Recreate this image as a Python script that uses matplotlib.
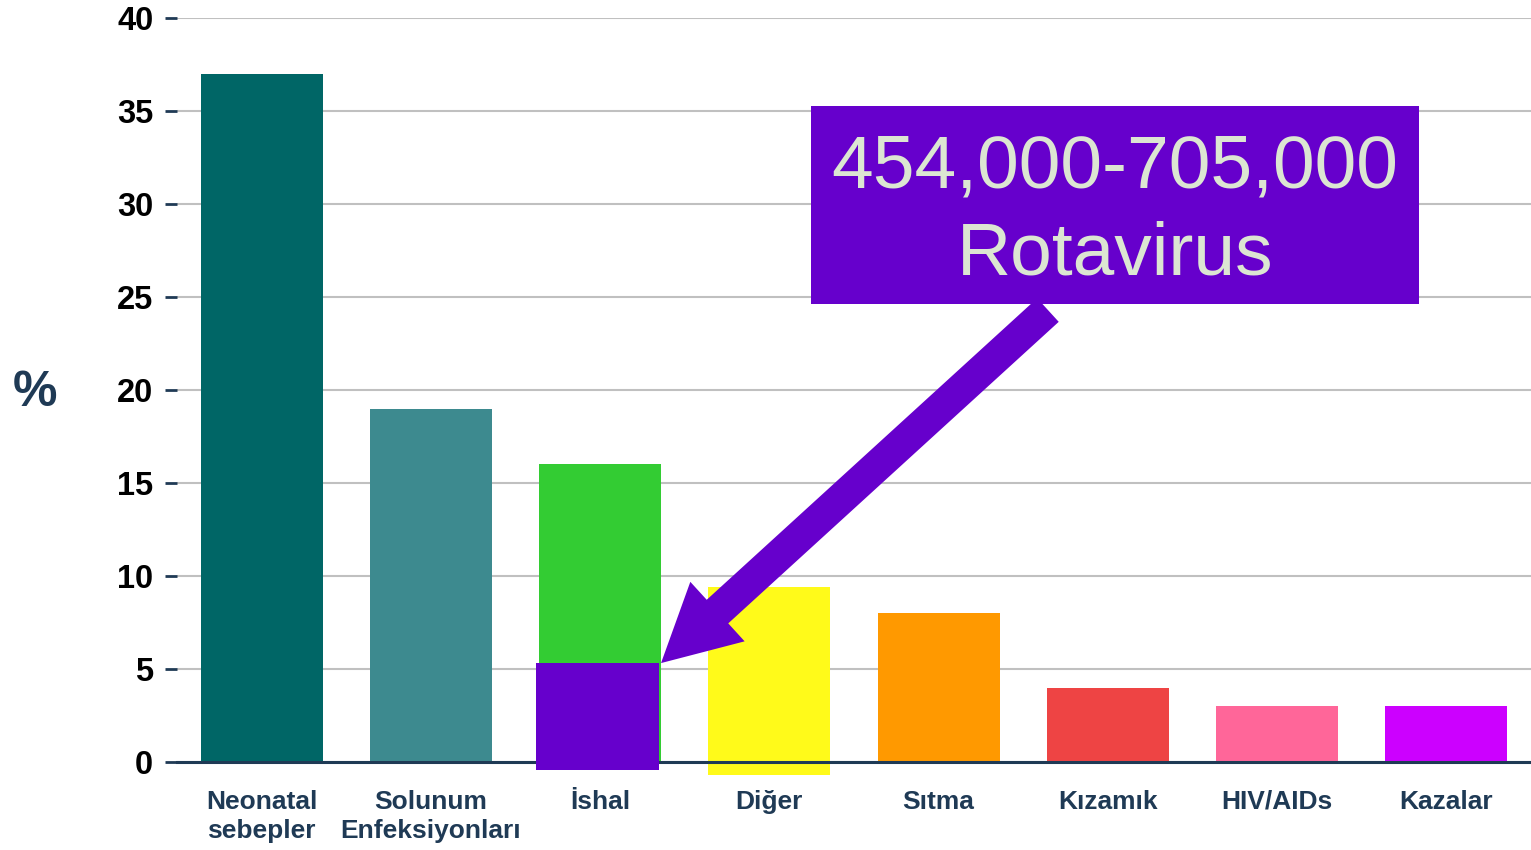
import matplotlib.pyplot as plt
from matplotlib.patches import Rectangle

plt.rcParams['font.family'] = ['Liberation Sans', 'DejaVu Sans']

# Veriler
kategoriler = ["Neonatal\nsebepler", "Solunum\nEnfeksiyonları", "İshal", "Diğer",
               "Sıtma", "Kızamık", "HIV/AIDs", "Kazalar"]
yuzdeler = [37.0, 19.0, 16.0, 9.4, 8.0, 4.0, 3.0, 3.0]
renkler = ["#006666", "#3D8A8F", "#33CC33", "#FFFA1A",
           "#FF9900", "#EE4444", "#FF6699", "#CC00FF"]
rotavirus_payi = 5.3
etiket = "454,000-705,000\nRotavirus"

lacivert = "#1F3A55"
mor = "#6600CC"

fig = plt.figure(figsize=(15.31, 8.5), dpi=100)
ax = fig.add_axes([0.1156, 0.1035, 0.8844, 0.8753])

x = list(range(len(kategoriler)))
alt = [0, 0, 0, -0.7, 0, 0, 0, 0]
yukseklik = [v - a for v, a in zip(yuzdeler, alt)]
ax.bar(x, yukseklik, bottom=alt, width=0.72, color=renkler, zorder=2, clip_on=False)

# Rotavirus kismi (ishal cubugunun alti)
ax.add_patch(Rectangle((2 - 0.38, -0.43), 0.73, rotavirus_payi + 0.43,
                       facecolor=mor, edgecolor="none", zorder=3, clip_on=False))

ax.set_xlim(-0.5, 7.5)
ax.set_ylim(0, 40)
ax.set_yticks(range(0, 41, 5))
ax.grid(axis='y', color="#C0C0C0", linewidth=1.5, zorder=0)

for s in ["top", "right", "left"]:
    ax.spines[s].set_visible(False)
ax.spines["bottom"].set_color(lacivert)
ax.spines["bottom"].set_linewidth(2.2)

ax.tick_params(axis='y', length=9, width=2, color=lacivert, pad=8,
               labelsize=23.5, labelcolor="black")
ax.tick_params(axis='x', length=0, pad=20)
for lbl in ax.get_yticklabels():
    lbl.set_fontweight('bold')

ax.set_xticks(x)
ax.set_xticklabels(kategoriler, fontsize=19, fontweight='bold', color=lacivert,
                   linespacing=1.25, va='top')

fig.text(0.023, 0.538, "%", fontsize=36, fontweight='bold', color=lacivert,
         ha='center', va='center')

# Aciklama kutusu
ax.add_patch(Rectangle((3.246, 24.6), 3.594, 10.67, facecolor=mor,
                       edgecolor="none", zorder=4, clip_on=False))
ax.text(3.246 + 3.594 / 2, 24.6 + 10.67 / 2 - 0.35, etiket, fontsize=54, color="#DCE6D2",
        ha='center', va='center', linespacing=1.34, zorder=5)

# Ok
ax.annotate("", xy=(2.36, 5.32), xytext=(4.646, 24.3),
            arrowprops=dict(arrowstyle="simple,head_length=55,head_width=58,tail_width=23",
                            mutation_scale=1, facecolor=mor, edgecolor="none",
                            shrinkA=0, shrinkB=0),
            zorder=6)

fig.savefig("out.png", dpi=100)
